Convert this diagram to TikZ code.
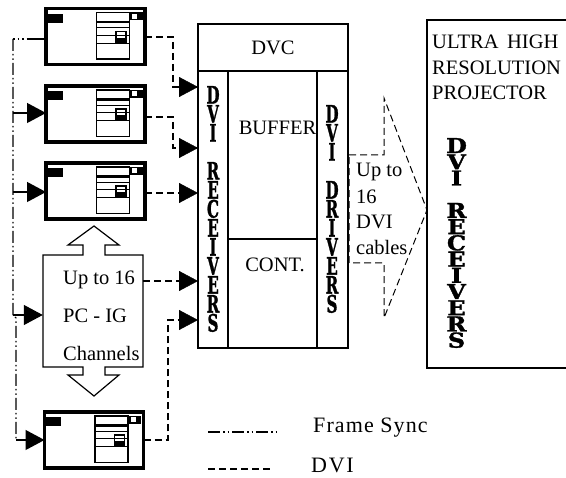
\documentclass[tikz,border=0pt]{standalone}
\usepackage{fontspec}
\setmainfont{Liberation Serif}
\newfontfamily\slabfamily[BoldFeatures={FakeBold=1.5}]{DejaVu Serif}
\newcommand{\slabfont}{\slabfamily\bfseries\fontsize{16}{12.67}\selectfont}
\usetikzlibrary{arrows.meta}
\tikzset{
    pcbox/.style={draw,line width=3.5pt,minimum width=99pt,minimum height=56pt,inner sep=0pt,outer sep=0pt},
    pcscreen/.pic={
        \fill (1.5,5.5) rectangle (16.5,14.5);
        \draw[line width=1.2pt] (50.5,4) rectangle (83.5,50.5);
        \fill (83.5,4) rectangle (96.5,12);
        \fill[white] (86,5.5) rectangle (91,10.5);
        \draw[line width=2.2pt] (50.5,13.5) -- (83.5,13.5);
        \draw[line width=1pt] (50.5,19.5) -- (83.5,19.5);
        \draw[line width=1pt] (50.5,27) -- (83.5,27);
        \draw[line width=1pt] (50.5,35) -- (83.5,35);
        \draw[line width=1.2pt] (70,23) rectangle (80,34.5);
        \fill (70,29.5) rectangle (80,34.5);
    },
    partbox/.style={draw,line width=1.2pt,inner sep=0pt,outer sep=0pt},
    labeltext/.style={font=\fontsize{20.5}{25}\selectfont,inner sep=0pt},
    legendtext/.style={font=\fontsize{22}{24}\selectfont,inner sep=0pt,anchor=west},
    slabtext/.style={font=\slabfont,align=center,inner sep=0pt,transform shape},
    dviline/.style={line width=1.2pt,dash pattern=on 7pt off 4pt},
    syncline/.style={line width=1.2pt,dash pattern=on 12pt off 3pt on 1.5pt off 3pt on 1.5pt off 3pt},
    syncdots/.style={line width=1.2pt,dash pattern=on 1.5pt off 3pt},
    bigtip/.style={-{Triangle[length=19pt,width=20pt]}},
}
\begin{document}
\begin{tikzpicture}[x=1pt,y=-1pt]
    \useasboundingbox (0,0) rectangle (566,478);

    \foreach \name/\cy/\cx in {pcone/36.5/95.5,pctwo/114/95.5,pcthree/191/95.5,pcfour/440/94}{
        \node[pcbox,anchor=center] (\name) at (\cx,\cy) {};
        \pic at (\name.north west) {pcscreen};
    }

    \draw[line width=1.2pt] (83,255) -- (83,245) -- (68,245) -- (94,226) -- (119,245)
        -- (105,245) -- (105,255) -- (143,255) -- (143,367) -- (105,367) -- (105,375)
        -- (119,375) -- (94,396) -- (68,375) -- (83,375) -- (83,367) -- (43,367) -- (43,255) -- cycle;
    \node[labeltext,minimum width=100pt,minimum height=112pt] (pcig) at (93,311) {};
    \node[labeltext,anchor=west] (upsixteen) at (63,280) {Up to 16};
    \node[labeltext,anchor=west] (pcname) at (63,316) {PC - IG};
    \node[labeltext,anchor=west] (channels) at (63,353) {Channels};

    \node[partbox,minimum width=150pt,minimum height=47pt,labeltext] (dvc) at (273,47.5) {DVC};
    \node[partbox,minimum width=30pt,minimum height=277pt] (receivers) at (213,209.5) {};
    \node[partbox,minimum width=89pt,minimum height=168pt] (buffer) at (272.5,155) {};
    \node[partbox,minimum width=89pt,minimum height=109pt] (cont) at (272.5,293.5) {};
    \node[partbox,minimum width=31pt,minimum height=277pt] (drivers) at (332.5,209.5) {};
    \node[labeltext] (bufferlabel) at (277.5,128) {BUFFER};
    \node[labeltext] (contlabel) at (275,265) {CONT.};
    \node[slabtext,xscale=.95,yscale=1.5] (recvtext) at (213,209) {D\\V\\I\\~\\R\\E\\C\\E\\I\\V\\E\\R\\S};
    \node[slabtext,xscale=.95,yscale=1.5] (drvtext) at (332,209) {D\\V\\I\\~\\D\\R\\I\\V\\E\\R\\S};

    \coordinate (inone) at (198,87);
    \coordinate (intwo) at (198,148);
    \coordinate (inthree) at (198,193);
    \coordinate (infour) at (198,281);
    \coordinate (infive) at (198,320);
    \draw[dviline] (pcone.east |- 0,37) -- (173,37) -- (173,87) -- (inone);
    \draw[dviline] (pctwo.east |- 0,117) -- (173,117) -- (173,148) -- (intwo);
    \draw[dviline] (pcthree.east |- inthree) -- (inthree);
    \draw[dviline] (pcig.east |- infour) -- (infour);
    \draw[dviline] (pcfour.east) -- (168,440) -- (168,320) -- (infive);
    \foreach \target in {inone,intwo,inthree,infour,infive}{
        \draw[bigtip] ([xshift=-18pt]\target) -- (\target);
    }

    \coordinate (syncone) at (13,39);
    \coordinate (synctwo) at (13,113);
    \coordinate (syncthree) at (13,192);
    \coordinate (syncfour) at (13,315);
    \coordinate (syncbend) at (16,318);
    \coordinate (syncfive) at (16,440);
    \draw[syncline] (syncone) -- (syncfour) -- (syncbend) -- (syncfive);
    \draw[syncdots] (syncone) -- (syncone -| 28,0);
    \draw[line width=1.2pt] (syncone -| 28,0) -- (syncone -| pcone.west);
    \draw[line width=1.2pt,bigtip] (synctwo) -- (synctwo -| pctwo.west);
    \draw[line width=1.2pt,bigtip] (syncthree) -- (syncthree -| pcthree.west);
    \draw[line width=1.2pt,bigtip] (syncfour) -- (syncfour -| pcig.west);
    \draw[line width=1.2pt,bigtip] (syncfive) -- (pcfour.west);

    \draw[line width=1pt,dash pattern=on 7pt off 4pt] (349,155) -- (384,155) -- (384,98) -- (427,210)
        -- (384,318) -- (384,263) -- (349,263) -- cycle;
    \node[labeltext,anchor=west] (cablesone) at (356,172) {Up to};
    \node[labeltext,anchor=west] (cablestwo) at (356,197) {16};
    \node[labeltext,anchor=west] (cablesthree) at (356,222) {DVI};
    \node[labeltext,anchor=west] (cablesfour) at (356,247) {cables};

    \draw[line width=1.2pt] (566,20) -- (427,20) -- (427,368) -- (566,368);
    \node[labeltext,anchor=west] (ultra) at (432,42) {ULTRA\, HIGH};
    \node[labeltext,anchor=west] (resolution) at (432,68) {RESOLUTION};
    \node[labeltext,anchor=west] (projector) at (432,93) {PROJECTOR};
    \node[slabtext,xscale=1.5,yscale=1.28] (projtext) at (456.5,243) {D\\V\\I\\~\\R\\E\\C\\E\\I\\V\\E\\R\\S};

    \coordinate (syncstart) at (208,432);
    \coordinate (syncend) at (277,432);
    \coordinate (dvistart) at (208,469);
    \coordinate (dviend) at (271,469);
    \draw[syncline] (syncstart) -- (syncend);
    \draw[dviline] (dvistart) -- (dviend);
    \node[legendtext] (framesync) at (313,428) {\addfontfeature{LetterSpace=5}Frame Sync};
    \node[legendtext] (dvilabel) at (311,465) {\addfontfeature{LetterSpace=8}DVI};
\end{tikzpicture}
\end{document}
